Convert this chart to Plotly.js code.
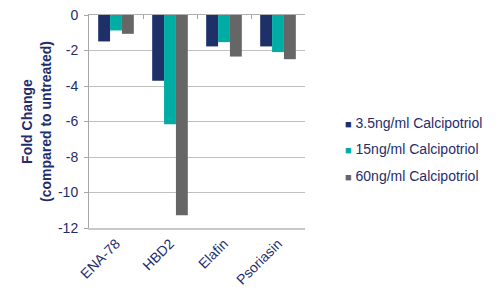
<!DOCTYPE html>
<html>
<head>
<meta charset="utf-8">
<script src="https://cdn.plot.ly/plotly-3.0.1.min.js"></script>
<style>html,body{margin:0;padding:0;background:#fff;}#chart{width:500px;height:300px;}</style>
</head>
<body>
<div id="chart"></div>
<script>
const categories = ["ENA-78", "HBD2", "Elafin", "Psoriasin"];
const seriesNames = ["3.5ng/ml Calcipotriol", "15ng/ml Calcipotriol", "60ng/ml Calcipotriol"];
const values35 = [-1.49, -3.71, -1.77, -1.77];
const values15 = [-0.87, -6.16, -1.53, -2.09];
const values60 = [-1.06, -11.28, -2.34, -2.49];
const yTicks = [0, -2, -4, -6, -8, -10, -12];

const colors = ["#1F3069", "#00ADA5", "#666666"];
const textColor = "#1F2D6B";
const allValues = [values35, values15, values60];

const bars = allValues.map((v, i) => ({
  type: "bar",
  x: categories,
  y: v,
  name: seriesNames[i],
  marker: {color: colors[i]},
  showlegend: false
}));
// legend entries: colored square glyph + label
const legendEntries = seriesNames.map((n, i) => ({
  type: "scatter",
  mode: "none",
  x: [null], y: [null],
  name: '<span style="color:' + colors[i] + ';font-size:11px">■</span> ' + n,
  legendgroup: "g" + i,
  showlegend: true,
  hoverinfo: "skip"
}));
// helper trace so the category axis at y=0 (top) gets its boundary ticks
const topAxisTrace = {
  type: "scatter", mode: "none",
  x: categories, y: categories.map(() => null),
  xaxis: "x2", yaxis: "y",
  showlegend: false, hoverinfo: "skip"
};

const layout = {
  width: 500, height: 300,
  margin: {l: 89, r: 179, t: 15, b: 72},
  paper_bgcolor: "#fff", plot_bgcolor: "#fff",
  font: {family: "Liberation Sans, Arial, sans-serif", size: 14, color: textColor},
  barmode: "group",
  bargap: 0.34,
  bargroupgap: 0,
  showlegend: true,
  legend: {x: 1.0, xanchor: "left", y: 0.37, yanchor: "middle",
           font: {size: 14, color: textColor}, tracegroupgap: 5, itemwidth: 30},
  xaxis: {
    type: "category",
    range: [-0.5, categories.length - 0.5],
    tickangle: -45,
    showgrid: false,
    showline: true, linecolor: "#C8C8C8", linewidth: 2,
    ticks: "", tickfont: {size: 14, color: textColor},
    fixedrange: true
  },
  xaxis2: {
    type: "category",
    overlaying: "x",
    side: "top",
    anchor: "y",
    range: [-0.5, categories.length - 0.5],
    showgrid: false,
    showline: true, linecolor: "#B0B0B0", linewidth: 1,
    ticks: "inside", tickson: "boundaries", ticklen: 4, tickcolor: "#A6A6A6",
    showticklabels: false,
    fixedrange: true
  },
  yaxis: {
    range: [-12, 0],
    tickvals: yTicks,
    ticktext: yTicks.map(String),
    showgrid: true, gridcolor: "#C0C0C0", gridwidth: 1,
    showline: true, linecolor: "#A6A6A6", linewidth: 1,
    ticks: "outside", ticklen: 4, tickcolor: "#A6A6A6",
    ticklabelstandoff: 3,
    zeroline: false,
    tickfont: {size: 14, color: textColor},
    title: {text: "<b>Fold Change<br>(compared to untreated)</b>", font: {size: 14, color: textColor}, standoff: 3}
  }
};

Plotly.newPlot("chart", bars.concat(legendEntries, [topAxisTrace]), layout, {displayModeBar: false, staticPlot: true});
</script>
</body>
</html>
